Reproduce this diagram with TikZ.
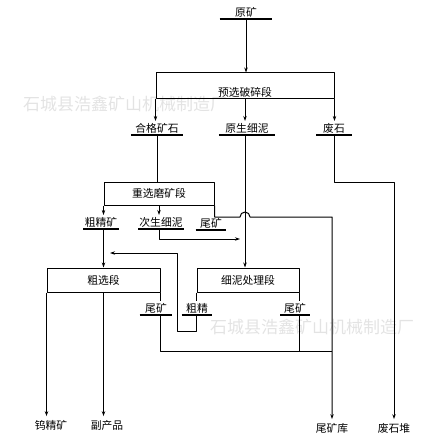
\documentclass[tikz,border=0pt]{standalone}
\usepackage{fontspec}
\newfontfamily\cjk{Noto Sans CJK SC}
\usetikzlibrary{arrows.meta}

\tikzset{
  stage/.style={draw,minimum width=#1,minimum height=24pt,inner sep=0pt},
  lbl/.style={inner xsep=#1,inner ysep=1.5pt},
  bar/.style={line width=1.5pt},
  wmark/.style={text=gray!22,font=\cjk\fontsize{17}{20}\selectfont}
}

\begin{document}
\begin{tikzpicture}[x=1pt,y=-1pt,line width=1pt,line join=round,
    >={Stealth[length=5pt,width=3.4pt]},font=\cjk\fontsize{10.8}{12}\selectfont]
  \useasboundingbox (0,0) rectangle (437,441);
  \node[wmark] (wm1) at (125,104) {石城县浩鑫矿山机械制造厂};
  \node[wmark] (wm2) at (312,327) {石城县浩鑫矿山机械制造厂};
  \node[stage=178pt,minimum height=26pt,text height=21pt,text depth=1pt] (pre) at (245,86) {预选破碎段};
  \node[stage=110pt,minimum height=23pt] (grav) at (159,193.5) {重选磨矿段};
  \node[stage=113pt] (rough) at (103.5,280) {粗选段};
  \node[stage=102pt] (fine) at (248,280) {细泥处理段};
  \node[lbl=15pt] (raw) at (246,12) {原矿};
  \node[lbl=4pt] (good) at (157,128) {合格矿石};
  \node[lbl=6pt] (fines) at (247,128) {原生细泥};
  \node[lbl=6.5pt] (waste) at (334,128) {废石};
  \node[lbl=1pt] (crude) at (101,222) {粗精矿};
  \node[lbl=0.5pt] (second) at (161,222) {次生细泥};
  \node[lbl=4pt] (tailA) at (211,223) {尾矿};
  \node[lbl=5pt] (tailB) at (156,308) {尾矿};
  \node[lbl=4pt] (fconc) at (197,308) {粗精};
  \node[lbl=3.5pt] (tailC) at (295,308) {尾矿};
  \node (tung) at (51,425) {钨精矿};
  \node (byprod) at (107,425) {副产品};
  \node (pond) at (332,428) {尾矿库};
  \node (dump) at (394,428) {废石堆};
  \coordinate (hop) at (245,217);
  \coordinate (merge) at (240,239);
  \coordinate (turn) at (177,253);
  \coordinate (back) at (110,253);
  \coordinate (join) at (332,351);
  \coordinate (wturn) at (394,182);
  \draw[bar] (raw.south west) -- (raw.south east);
  \draw[bar] (good.south west) -- (good.south east);
  \draw[bar] (fines.south west) -- (fines.south east);
  \draw[bar] (waste.south west) -- (waste.south east);
  \draw[bar] (crude.south west) -- (crude.south east);
  \draw[bar] (second.south west) -- (second.south east);
  \draw[bar] (tailA.south west) -- (tailA.south east);
  \draw[bar] (tailB.south west) -- (tailB.south east);
  \draw[bar] (fconc.south west) -- (fconc.south east);
  \draw[bar] (tailC.south west) -- (tailC.south east);
  \draw[->] (raw.south) -- (raw.south |- pre.north);
  \draw[->] (pre.south west) -- (pre.south west |- good.north);
  \draw[->] (pre.south) -- (pre.south |- fines.north);
  \draw[->] (pre.south east) -- (pre.south east |- waste.north);
  \draw (good.south) -- (good.south |- grav.north);
  \draw[->] (pre.south |- fines.south) -- (pre.south |- fine.north);
  \draw[->] (waste.south) |- (wturn) -- (wturn |- dump.north);
  \draw[->] (grav.south west) -- (grav.south west |- crude.north);
  \draw[->] (grav.south) -- (grav.south |- second.north);
  \draw[->] (grav.south east) |- ([xshift=-5pt]hop) arc[start angle=180,end angle=0,radius=5pt] -| (pond.north);
  \draw[->] (grav.south west |- crude.south) -- (grav.south west |- rough.north);
  \draw[->] (grav.south |- second.south) |- (merge);
  \draw[->] (rough.south west) -- (rough.south west |- tung.north);
  \draw[->] (rough.south) -- (rough.south |- byprod.north);
  \draw (rough.south east) -- (rough.south east |- tailB.north);
  \draw (fine.south west) -- (fine.south west |- fconc.north);
  \draw (fine.south east) -- (fine.south east |- tailC.north);
  \draw (rough.south east |- tailB.south) |- (join);
  \draw (fine.south east |- tailC.south) -- (fine.south east |- join);
  \draw[->] (fine.south west |- fconc.south) -- ++(0,17) -| (turn) -- (back);
\end{tikzpicture}
\end{document}
